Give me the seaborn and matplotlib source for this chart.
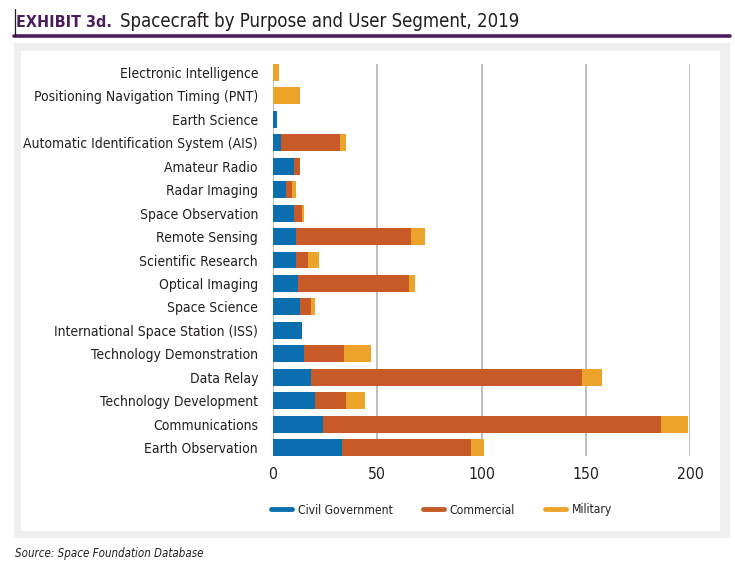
import matplotlib
matplotlib.use("Agg")
import matplotlib.pyplot as plt
import matplotlib.font_manager as fm
from matplotlib.patches import Rectangle
from matplotlib.lines import Line2D
import seaborn as sns
import pandas as pd

categories = [
    "Electronic Intelligence",
    "Positioning Navigation Timing (PNT)",
    "Earth Science",
    "Automatic Identification System (AIS)",
    "Amateur Radio",
    "Radar Imaging",
    "Space Observation",
    "Remote Sensing",
    "Scientific Research",
    "Optical Imaging",
    "Space Science",
    "International Space Station (ISS)",
    "Technology Demonstration",
    "Data Relay",
    "Technology Development",
    "Communications",
    "Earth Observation",
]
civil = [0, 0, 2, 4, 10, 6, 10, 11, 11, 12, 13, 14, 15, 18, 20, 24, 33]
commercial = [0, 0, 0, 28, 3, 3, 4, 55, 6, 53, 5, 0, 19, 130, 15, 162, 62]
military = [3, 13, 0, 3, 0, 2, 1, 7, 5, 3, 2, 0, 13, 10, 9, 13, 6]
series_names = ["Civil Government", "Commercial", "Military"]
x_ticks = [0, 50, 100, 150, 200]

colors = ["#0B6FAF", "#C85A27", "#EBA329"]
purple = "#4B1E5E"
dark = "#231F20"

sns.set_style("white")

# pick a narrow font if one is installed
avail = {(f.name, f.stretch) for f in fm.fontManager.ttflist}
names = {n for n, _ in avail}
stretch = "normal"
if "Liberation Sans Narrow" in names:
    fam = "Liberation Sans Narrow"
elif "DejaVu Sans Condensed" in names:
    fam = "DejaVu Sans Condensed"
elif ("DejaVu Sans", "condensed") in avail:
    fam = "DejaVu Sans"
    stretch = "condensed"
elif "Roboto" in names:
    fam = "Roboto"
else:
    fam = "Liberation Sans"
plt.rcParams["font.family"] = [fam, "DejaVu Sans"]
plt.rcParams["font.stretch"] = stretch

df = pd.DataFrame({"cat": categories, "civil": civil,
                   "commercial": commercial, "military": military})
df["c2"] = df["civil"] + df["commercial"]
df["c3"] = df["c2"] + df["military"]

fig = plt.figure(figsize=(7.35, 5.72), dpi=100)
W, H = 735, 572
R = fig.canvas.get_renderer()


def fx(px):
    return px / W


def fy(py):
    return 1 - py / H


def fit(s, target, base=12.0, **kw):
    t = fig.text(0, 0, s, fontsize=base, **kw)
    w = t.get_window_extent(R).width
    t.remove()
    return base * target / w


# panel backgrounds
fig.patches.append(Rectangle((fx(14), fy(538)), fx(730) - fx(14), fy(43) - fy(538),
                             transform=fig.transFigure, facecolor="#EFEFEF",
                             edgecolor="none", zorder=-3))
fig.patches.append(Rectangle((fx(21), fy(531)), fx(720) - fx(21), fy(51) - fy(531),
                             transform=fig.transFigure, facecolor="white",
                             edgecolor="none", zorder=-2))
fig.lines.append(Line2D([fx(14), fx(730)], [fy(36), fy(36)], transform=fig.transFigure,
                        color=purple, lw=2.6))
fig.lines.append(Line2D([fx(15), fx(15)], [fy(9), fy(36)], transform=fig.transFigure,
                        color=dark, lw=0.9))

ax = fig.add_axes([fx(273), fy(456), fx(690) - fx(273), fy(64) - fy(456)])
ax.set_facecolor("none")

w = 0.72
for col, c in (("c3", colors[2]), ("c2", colors[1]), ("civil", colors[0])):
    sns.barplot(data=df, y="cat", x=col, color=c, orient="h", ax=ax,
                width=w, saturation=1, order=categories, zorder=3,
                linewidth=0, edgecolor="none")

ax.set_xlim(0, 200)
ax.set_ylim(len(categories) - 1 + w / 2, -w / 2)
ax.set_xticks(x_ticks)
ax.set_xticklabels([str(t) for t in x_ticks])
ax.grid(axis="x", color="#B3B3B3", lw=1.2, zorder=0)
ax.grid(axis="y", visible=False)
for s in ax.spines.values():
    s.set_visible(False)
ax.set_xlabel("")
ax.set_ylabel("")

ysize = min(12.5, fit("Automatic Identification System (AIS)", 234))
xsize = min(13.5, fit("200", 27))
ax.tick_params(axis="y", length=0, pad=10.8, labelsize=ysize, labelcolor=dark)
ax.tick_params(axis="x", length=0, pad=8, labelsize=xsize, labelcolor=dark)

lsize = min(11.5, fit("Civil Government", 95))
em = lsize * 100 / 72
handles = [Line2D([0], [0], color=c, lw=3.5, solid_capstyle="round") for c in colors]
fig.legend(handles, series_names, loc="center left", bbox_to_anchor=(fx(271), fy(510)),
           ncol=3, frameon=False, fontsize=lsize, handlelength=21 / em,
           handletextpad=6 / em, columnspacing=30 / em, borderpad=0,
           borderaxespad=0, labelcolor=dark)

# title
bsize = min(16, fit("EXHIBIT 3d.", 95, fontweight="bold"))
rsize = min(16, fit("Spacecraft by Purpose and User Segment, 2019", 400))
t1 = fig.text(fx(16), fy(27), "EXHIBIT 3d.", color=purple, fontsize=bsize,
              fontweight="bold", ha="left", va="baseline")
fig.canvas.draw()
bb = t1.get_window_extent(R)
fig.text(bb.x1 / W + fx(8), fy(27), "Spacecraft by Purpose and User Segment, 2019",
         color=dark, fontsize=rsize, ha="left", va="baseline")

ssize = min(10, fit("Source: Space Foundation Database", 188, style="italic"))
fig.text(fx(15), fy(557), "Source: Space Foundation Database", color=dark,
         fontsize=ssize, style="italic", ha="left", va="baseline")

fig.savefig("out.png", dpi=100)
